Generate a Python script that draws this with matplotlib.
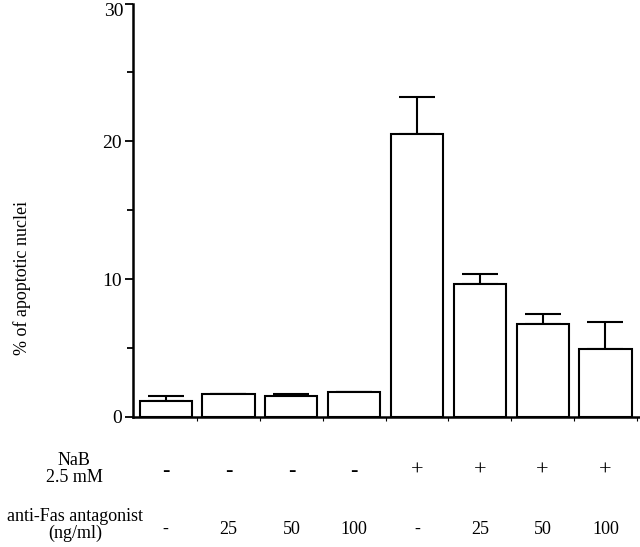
import numpy as np
import matplotlib
matplotlib.use("Agg")
import matplotlib.pyplot as plt
from matplotlib.ticker import MultipleLocator

# values (% apoptotic nuclei, upper SD only)
means = [1.15, 1.65, 1.5, 1.8, 20.5, 9.65, 6.75, 4.95]
errs = [0.35, 0.0, 0.15, 0.0, 2.75, 0.7, 0.7, 1.95]
yticks = [0, 10, 20, 30]
nab = ["-", "-", "-", "-", "+", "+", "+", "+"]
antifas = ["-", "25", "50", "100", "-", "25", "50", "100"]

plt.rcParams["font.family"] = ["Liberation Serif", "DejaVu Serif"]

W, H = 640, 547
fig = plt.figure(figsize=(6.4, 5.47), dpi=100)
y0_px, y30_px = 416.7, 3.6
ax = fig.add_axes([133 / W, 1 - y0_px / H, 1 - 133 / W, (y0_px - y30_px) / H])

x = np.arange(len(means))
ax.bar(x, means, width=0.83, color="white", edgecolor="black", linewidth=1.5, zorder=2)
ax.errorbar(x, means, yerr=[np.zeros(len(errs)), errs], fmt="none",
            ecolor="black", elinewidth=1.5, capsize=13, capthick=1.5, zorder=1)

ax.set_xlim(-0.52, 7.55)
ax.set_ylim(0, 30)
ax.set_yticks(yticks)
# top label sits below its tick in the reference, so draw it by hand
ax.set_yticklabels([str(t) for t in yticks[:-1]] + [""])
ax.annotate(str(yticks[-1]), xy=(0, yticks[-1]), xycoords=ax.get_yaxis_transform(),
            xytext=(-9, 1), textcoords="offset pixels", ha="right", va="top", fontsize=14)
ax.yaxis.set_minor_locator(MultipleLocator(5))
ax.set_xticks(x + 0.5)
ax.set_xticklabels([])
ax.tick_params(axis="y", which="major", length=6, width=1.3, labelsize=14, pad=2)
ax.tick_params(axis="y", which="minor", length=4, width=1.3)
ax.tick_params(axis="x", length=3, width=0.8)
for s in ["top", "right"]:
    ax.spines[s].set_visible(False)
ax.spines["left"].set_linewidth(1.8)
ax.spines["bottom"].set_linewidth(1.8)

fig.text(22 / W, 1 - 278 / H, "% of apoptotic nuclei", rotation=90, ha="center", va="center", fontsize=13)

# condition table under the bars
px_per_unit = (y0_px - y30_px) / 30
trans = ax.get_xaxis_transform()
fig.text(74 / W, 1 - 469 / H, "NaB\n2.5 mM", ha="center", va="center", fontsize=13, linespacing=1.0)
fig.text(75 / W, 1 - 525 / H, "anti-Fas antagonist\n(ng/ml)", ha="center", va="center", fontsize=13, linespacing=1.0)
for xi, a, b in zip(x, nab, antifas):
    ax.text(xi, -(471 - y0_px) / px_per_unit / 30, a, transform=trans, ha="center", va="center", fontsize=16)
    ax.text(xi, -(529 - y0_px) / px_per_unit / 30, b, transform=trans, ha="center", va="center", fontsize=13)

fig.savefig("out.png", dpi=100)
